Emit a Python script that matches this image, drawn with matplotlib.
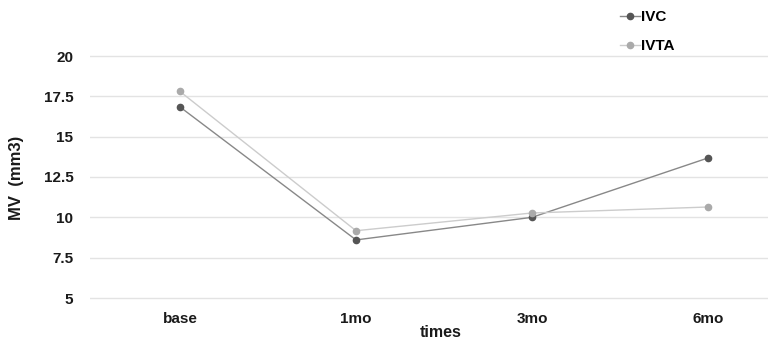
import matplotlib.pyplot as plt

plt.rcParams["font.family"] = ["Liberation Sans", "DejaVu Sans"]

times = ["base", "1mo", "3mo", "6mo"]
ivc = [16.84, 8.6, 10.0, 13.68]
ivta = [17.8, 9.17, 10.27, 10.64]

W, H = 768, 341
fig = plt.figure(figsize=(W / 100, H / 100), dpi=100)

# axes in pixel terms: left 90, top 40, bottom 305, right edge of figure
left, top, bottom = 90, 40, 305
ax = fig.add_axes([left / W, 1 - bottom / H, 1 - left / W, (bottom - top) / H])

x = list(range(len(times)))
ax.plot(x, ivc, color="#888888", lw=1.0, marker="o", ms=4.5,
        mfc="#555555", mec="#555555", label="IVC", zorder=3)
ax.plot(x, ivta, color="#cccccc", lw=1.0, marker="o", ms=4.5,
        mfc="#aaaaaa", mec="#aaaaaa", label="IVTA", zorder=3)

# scale: 16.13 px per unit, 20 at y=56, category spacing 176 px, base at x=180
ppu = 242 / 15
ax.set_ylim(20 - (bottom - 56) / ppu, 20 + (56 - top) / ppu)
ax.set_xlim(-(180 - left) / 176, (W - 180) / 176)

ax.set_yticks([5, 7.5, 10, 12.5, 15, 17.5, 20])
ax.set_yticklabels(["5", "7.5", "10", "12.5", "15", "17.5", "20"])
ax.set_xticks(x)
ax.set_xticklabels(times)
ax.tick_params(axis="x", length=0, labelsize=11, pad=5)
ax.tick_params(axis="y", length=0, labelsize=11, pad=12)
for lab in ax.get_xticklabels() + ax.get_yticklabels():
    lab.set_fontweight("bold")
    lab.set_color("#1a1a1a")

ax.grid(axis="y", color="#e3e3e3", lw=1.0)
ax.set_axisbelow(True)
for s in ax.spines.values():
    s.set_visible(False)

ax.set_xlabel("times", fontsize=11.5, fontweight="bold", color="#1a1a1a")
ax.xaxis.set_label_coords((441 - left) / (W - left), -0.075)
ax.set_ylabel("MV  (mm3)", fontsize=12, fontweight="bold", color="#1a1a1a")
ax.yaxis.set_label_coords((24 - left) / (W - left), 0.48)

leg = fig.legend(loc="upper left", bbox_to_anchor=(610 / W, 1),
                 frameon=False, fontsize=11, handlelength=1.3,
                 handletextpad=0.1, labelspacing=1.0, borderpad=0.15)
for t in leg.get_texts():
    t.set_fontweight("bold")

fig.savefig("out.png", dpi=100)
